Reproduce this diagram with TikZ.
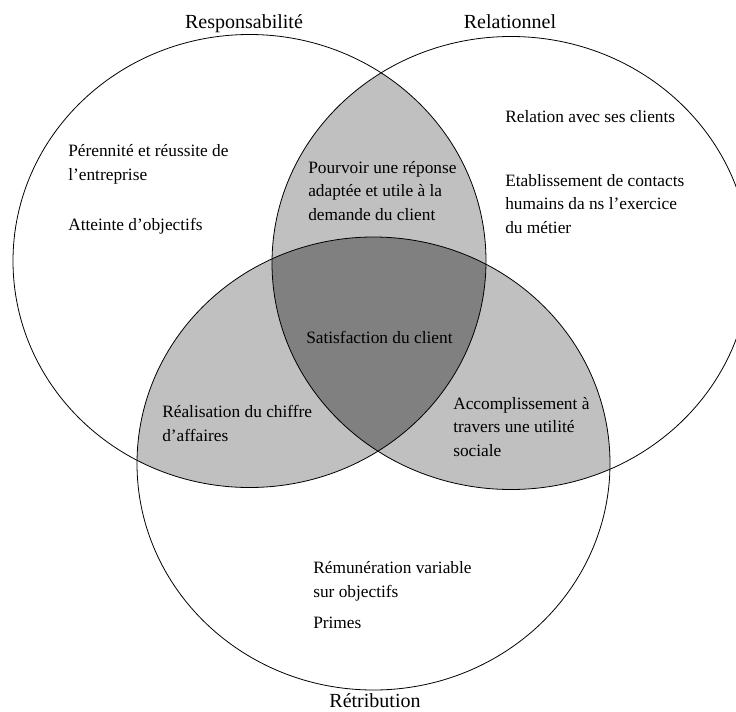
\documentclass[tikz,border=0pt]{standalone}
\usepackage{fontspec}
\setmainfont{Liberation Serif}
\definecolor{zonegray}{HTML}{C0C0C0}
\definecolor{coregray}{HTML}{808080}
\tikzset{
  venntitle/.style={font=\fontsize{15}{18}\selectfont, anchor=base, inner sep=0pt},
  venntext/.style={font=\fontsize{13}{17.6}\selectfont, align=left, anchor=base west, inner sep=0pt},
  venn/.style={line width=0.6pt},
}
% the three circles (pixel coordinates)
\def\circresp{(249.5,261) ellipse [x radius=236.5, y radius=226.5]}
\def\circrel{(511,263) ellipse [x radius=239, y radius=226.5]}
\def\circretr{(373.5,463.5) ellipse [x radius=236.5, y radius=226.5]}
\begin{document}
\begin{tikzpicture}[x=0.75pt,y=-0.75pt]
  \useasboundingbox (0,0) rectangle (736,711);

  % overlaps
  \begin{scope}
    \clip \circresp;
    \fill[zonegray] \circrel;
    \fill[zonegray] \circretr;
  \end{scope}
  \begin{scope}
    \clip \circrel;
    \fill[zonegray] \circretr;
  \end{scope}
  \begin{scope}
    \clip \circresp;
    \clip \circrel;
    \fill[coregray] \circretr;
  \end{scope}

  \draw[venn] \circresp;
  \draw[venn] \circrel;
  \draw[venn] \circretr;

  \node[venntitle] (resp) at (244,28) {Responsabilité};
  \node[venntitle] (rel) at (510,28) {Relationnel};
  \node[venntitle] (retr) at (375,707) {Rétribution};

  % multi-line nodes: placed by the baseline of their last line
  \node[venntext] (perenn) at (68,180) {Pérennité et réussite de\\l’entreprise};
  \node[venntext] (atteinte) at (68,230) {Atteinte d’objectifs};
  \node[venntext] (pourvoir) at (308,220) {Pourvoir une réponse\\adaptée et utile à la\\demande du client};
  \node[venntext] (relation) at (505,122) {Relation avec ses clients};
  \node[venntext] (contacts) at (505,233) {Etablissement de contacts\\humains da ns l’exercice\\du métier};
  \node[venntext] (satisf) at (306,343) {Satisfaction du client};
  \node[venntext] (chiffre) at (162,441) {Réalisation du chiffre\\d’affaires};
  \node[venntext] (accompl) at (453,456) {Accomplissement à\\travers une utilité\\sociale};
  \node[venntext] (remun) at (313,597) {Rémunération variable\\sur objectifs};
  \node[venntext] (primes) at (313,628) {Primes};
\end{tikzpicture}
\end{document}
